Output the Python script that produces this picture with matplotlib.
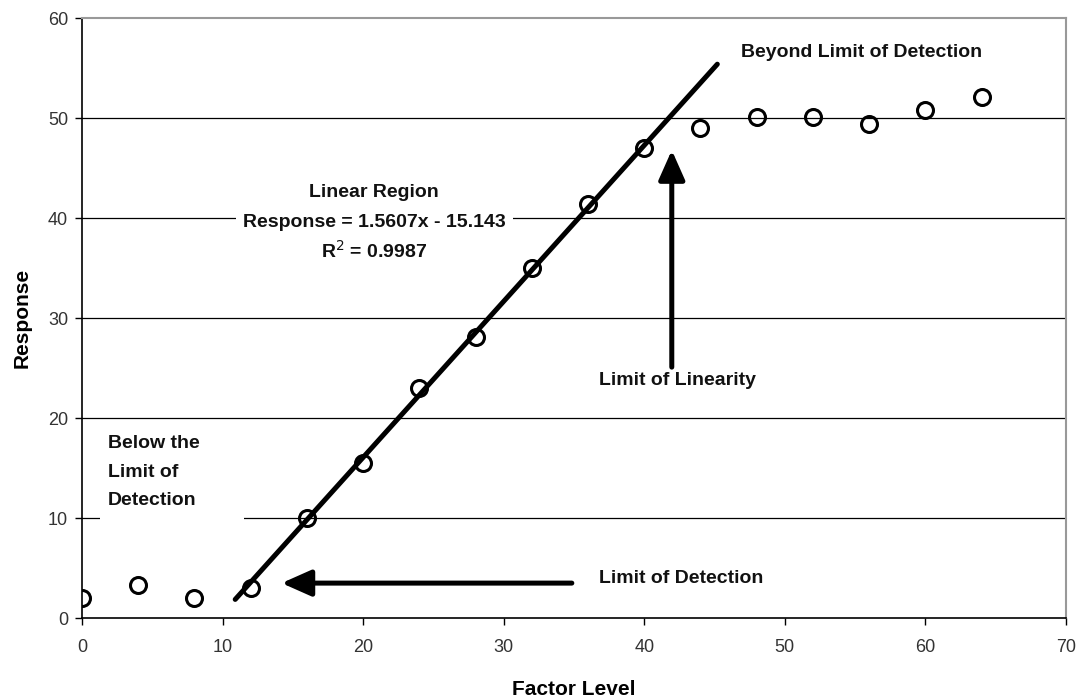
import matplotlib.pyplot as plt
from matplotlib.patches import Rectangle
import numpy as np

plt.rcParams['font.family'] = ['Liberation Sans', 'DejaVu Sans']

# données
factor_level = [0, 4, 8, 12, 16, 20, 24, 28, 32, 36, 40, 44, 48, 52, 56, 60, 64]
response = [2.0, 3.3, 2.0, 3.0, 10.0, 15.5, 23.0, 28.1, 35.0, 41.4, 47.0,
            49.0, 50.1, 50.1, 49.4, 50.8, 52.1]

slope, intercept = 1.5607, -15.143
fit_x = [10.9, 45.2]

xticks = [0, 10, 20, 30, 40, 50, 60, 70]
yticks = [0, 10, 20, 30, 40, 50, 60]

fig = plt.figure(figsize=(10.86, 7.0), dpi=100)
ax = fig.add_axes([0.0755, 0.117, 0.906, 0.857])

# grille horizontale
for yv in yticks[1:-1]:
    ax.axhline(yv, color='black', lw=0.9, zorder=1)

# droite de régression
fx = np.array(fit_x)
ax.plot(fx, slope * fx + intercept, color='black', lw=3.6,
        solid_capstyle='round', zorder=3)

# points
ax.plot(factor_level, response, linestyle='none', marker='o', ms=11.5,
        mfc='none', mec='black', mew=2.2, zorder=4)

# annotations
txt_kw = dict(fontsize=14, fontweight='bold', color='#111111', zorder=5)

ax.add_patch(Rectangle((10.95, 35.0), 19.7, 9.6, fc='white', ec='none', zorder=2))
ax.text(20.8, 42.6, 'Linear Region', ha='center', va='center', **txt_kw)
ax.text(20.8, 39.6, 'Response = 1.5607x - 15.143', ha='center', va='center', **txt_kw)
ax.text(20.8, 36.7, 'R$^2$ = 0.9987', ha='center', va='center', **txt_kw)

ax.add_patch(Rectangle((1.3, 8.6), 10.2, 10.6, fc='white', ec='none', zorder=2))
for yy, line in zip([17.5, 14.6, 11.8], ['Below the', 'Limit of', 'Detection']):
    ax.text(1.85, yy, line, ha='left', va='center', **txt_kw)

ax.text(46.9, 56.6, 'Beyond Limit of Detection', ha='left', va='center', **txt_kw)
ax.text(42.4, 23.8, 'Limit of Linearity', ha='center', va='center', **txt_kw)
ax.text(36.8, 4.0, 'Limit of Detection', ha='left', va='center', **txt_kw)

arrow_kw = dict(arrowstyle='-|>,head_length=1.8,head_width=0.8', color='black',
                lw=3.6, shrinkA=0, shrinkB=0, mutation_scale=10)
ax.annotate('', xy=(41.96, 46.8), xytext=(41.96, 25.1), arrowprops=arrow_kw, zorder=5)
ax.annotate('', xy=(14.2, 3.5), xytext=(34.85, 3.5), arrowprops=arrow_kw, zorder=5)

ax.set_xlim(0, 70)
ax.set_ylim(0, 60)
ax.set_xticks(xticks)
ax.set_yticks(yticks)
ax.tick_params(direction='out', length=5, width=1, labelsize=13,
               labelcolor='#333333', color='black')
ax.tick_params(axis='x', pad=10)
ax.tick_params(axis='y', pad=5)

for side in ['left', 'bottom']:
    ax.spines[side].set_color('black')
    ax.spines[side].set_linewidth(1.2)
for side in ['top', 'right']:
    ax.spines[side].set_color('#999999')
    ax.spines[side].set_linewidth(1.5)

ax.set_xlabel('Factor Level', fontsize=15, fontweight='bold', labelpad=17)
ax.set_ylabel('Response', fontsize=15, fontweight='bold', labelpad=12)

fig.savefig('out.png', dpi=100)
